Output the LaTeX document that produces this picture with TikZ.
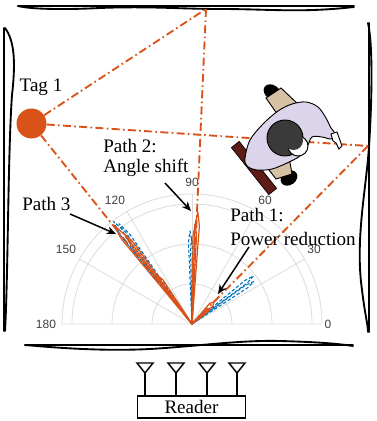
\documentclass[tikz,border=0pt]{standalone}
\usepackage{fontspec}
\setmainfont{Liberation Serif}
\newfontfamily\axisfont{Liberation Sans}
\usetikzlibrary{arrows.meta,calc}

\definecolor{mOrange}{HTML}{D95319}
\definecolor{mBlue}{HTML}{0072BD}
\definecolor{gridgray}{HTML}{DCDCDC}
\definecolor{ticklabel}{HTML}{404040}
\definecolor{shirt}{HTML}{DCD4EA}
\definecolor{skin}{HTML}{D7C1A5}
\definecolor{hair}{HTML}{3A3A3A}
\definecolor{chair}{HTML}{5E1B17}

% narrow beam lobe: direction, half width (deg), length, style
\newcommand\beamlobe[4]{%
  \draw[#4] (0,0) -- (#1-#2:#3*0.88) -- (#1:#3) -- (#1+#2:#3*0.88) -- cycle;}

\begin{document}
\begin{tikzpicture}[x=0.75pt,y=-0.75pt,
  wall/.style={line width=1.4pt, line cap=round},
  ray/.style={mOrange, line width=1.4pt, dash pattern=on 6pt off 2.5pt on 1.2pt off 2.5pt},
  gridline/.style={gridgray, line width=0.6pt},
  tick/.style={font=\axisfont\fontsize{9}{10}\selectfont, text=ticklabel, inner sep=0pt},
  lbl/.style={font=\fontsize{14.3}{16}\selectfont, inner sep=0pt},
  pointer/.style={-{Stealth[length=7pt,width=6pt]}, line width=1.1pt},
  beamA/.style={mOrange, line width=0.9pt, line join=round},
  beamB/.style={mBlue, line width=0.8pt, line join=round, dash pattern=on 2.5pt off 1.5pt},
  antenna/.style={line width=1.1pt, line join=miter},
  outline/.style={draw=black, line width=0.7pt}]

\useasboundingbox (0,0) rectangle (376,421);

% ---------- room walls (hand-drawn double strokes) ----------
\draw[wall] (18,6) -- (354,6);
\draw[wall] (18,6) .. controls (30,9) and (60,10) .. (100,8)
  .. controls (150,6) and (180,9) .. (220,9)
  .. controls (270,9) and (300,13) .. (354,7);
\draw[wall] (4,28) -- (4,331);
\draw[wall] (5,28) .. controls (14,40) and (16,60) .. (12,95)
  .. controls (8,150) and (8,280) .. (5,331);
\draw[wall] (369,23) -- (369,332);
\draw[wall] (368,23) .. controls (373,45) and (372,100) .. (369,147)
  .. controls (366,190) and (355,240) .. (362,290)
  .. controls (365,315) and (368,325) .. (368,332);
\draw[wall] (25,345) -- (353,345);
\draw[wall] (25,345) .. controls (70,349) and (110,351) .. (150,349)
  .. controls (200,346) and (240,340) .. (280,341)
  .. controls (320,342) and (340,344) .. (353,346);

% ---------- polar grid ----------
\coordinate (C) at (192,324);
\begin{scope}[shift={(192,324)}, yscale=-1]
  \foreach \r in {40,80,120}
    \draw[gridline] (\r,0) arc[start angle=0, end angle=180, radius=\r];
  \draw[gridline] (130,0) arc[start angle=0, end angle=180, radius=130] -- cycle;
  \foreach \a in {30,60,...,150}
    \draw[gridline] (0,0) -- (\a:130);
\end{scope}

\node[tick] (t0)   at (328,324) {0};
\node[tick] (t30)  at (314,249) {30};
\node[tick] (t60)  at (265,200) {60};
\node[tick] (t90)  at (192,182) {90};
\node[tick] (t120) at (115,200) {120};
\node[tick] (t150) at (66,249)  {150};
\node[tick] (t180) at (46,324)  {180};

% ---------- tag and propagation paths ----------
\node[circle, fill=mOrange, minimum size=22.5pt, inner sep=0pt] (tag) at (31.5,123.5) {};
\node[lbl] (taglbl) at (41,87) {Tag 1};
\coordinate (topP) at (206,9);
\coordinate (rightP) at (368,146);

\draw[ray] (tag) -- (topP);
\draw[ray] (topP) -- (C);
\draw[ray] (tag) -- (rightP);
\draw[ray] (rightP) -- (C);
\draw[ray] (tag) -- (C);

% ---------- measured beam patterns ----------
\begin{scope}[shift={(192,324)}, yscale=-1]
  % path 3
  \beamlobe{126}{1.3}{124}{beamB}
  \beamlobe{127.4}{1.5}{129}{beamB}
  \beamlobe{125.5}{2.2}{60}{beamA}
  \beamlobe{126.8}{1.2}{112}{beamA}
  \beamlobe{128.3}{1.4}{126}{beamA}
  % path 2
  \beamlobe{91.2}{1.3}{93}{beamB}
  \beamlobe{90.2}{0.9}{86}{beamB}
  \beamlobe{87}{1.3}{112}{beamA}
  \beamlobe{88.2}{1.1}{100}{beamA}
  % path 1
  \beamlobe{38}{1.4}{78}{beamB}
  \beamlobe{34.5}{1.4}{75}{beamB}
  \beamlobe{45}{4.5}{31}{beamA}
  \beamlobe{41}{3.5}{24}{beamA}
\end{scope}

% ---------- person seen from above ----------
\filldraw[fill=chair, draw=black, line width=0.5pt]
  (239.2,141.4) -- (276.6,188.4) -- (268.8,194.6) -- (231.4,147.6) -- cycle;
\fill[black, rotate around={-35:(272,92)}] (272,92) ellipse[x radius=9, y radius=7];
\fill[black, rotate around={35:(289,178)}] (289,178) ellipse[x radius=9, y radius=7];
\filldraw[fill=skin, outline] (266,98) -- (281,88) -- (300,106) -- (280,118) -- cycle;
\filldraw[fill=skin, outline] (266,166) -- (289,157) -- (292,174) -- (276,179) -- cycle;
\filldraw[fill=shirt, outline] plot[smooth cycle, tension=0.55] coordinates {
  (245,158) (250,140) (263,124) (278,111) (292,104) (306,102) (318,107)
  (326,118) (331,128) (336,135) (331,139) (322,137) (312,137) (307,147)
  (300,156) (287,163) (272,169) (257,170) (247,166)};
\filldraw[fill=white, outline] (331,134) -- (337,132) -- (342,146) -- (339,149)
  -- (336,143) -- (333,141) -- cycle;
\filldraw[fill=hair, outline] (285,138) circle[radius=18];
\filldraw[fill=white, outline] (298,146) circle[radius=10];
\fill[hair] (293.5,140.5) circle[radius=9.5];

% ---------- annotations ----------
\node[lbl, anchor=west] (p2a) at (103,146) {Path 2:};
\node[lbl, anchor=west] (p2b) at (103,168) {Angle shift};
\node[lbl, anchor=west] (p3)  at (22,204)  {Path 3};
\node[lbl, anchor=west] (p1a) at (230,215) {Path 1:};
\node[lbl, anchor=west] (p1b) at (230,239) {Power reduction};

\coordinate (p3tail) at (70,214);  \coordinate (p3head) at (116,234);
\coordinate (p2tail) at (165,183); \coordinate (p2head) at (191,211);
\coordinate (p1tail) at (249,247); \coordinate (p1head) at (218,294);
\draw[pointer] (p3tail) -- (p3head);
\draw[pointer] (p2tail) -- (p2head);
\draw[pointer] (p1tail) -- (p1head);

% ---------- reader with antenna array ----------
\node[draw, line width=1.1pt, minimum width=81pt, minimum height=16.5pt,
      inner sep=0pt, lbl] (reader) at (191.5,407) {Reader};
\foreach \ax [count=\i] in {145,176,207,237} {
  \coordinate (ant\i) at (\ax,373);
  \draw[antenna] (\ax-8,363) -- (\ax+8,363) -- (ant\i) -- cycle;
  \draw[antenna] (ant\i) -- (reader.north -| ant\i);
}
\end{tikzpicture}
\end{document}
